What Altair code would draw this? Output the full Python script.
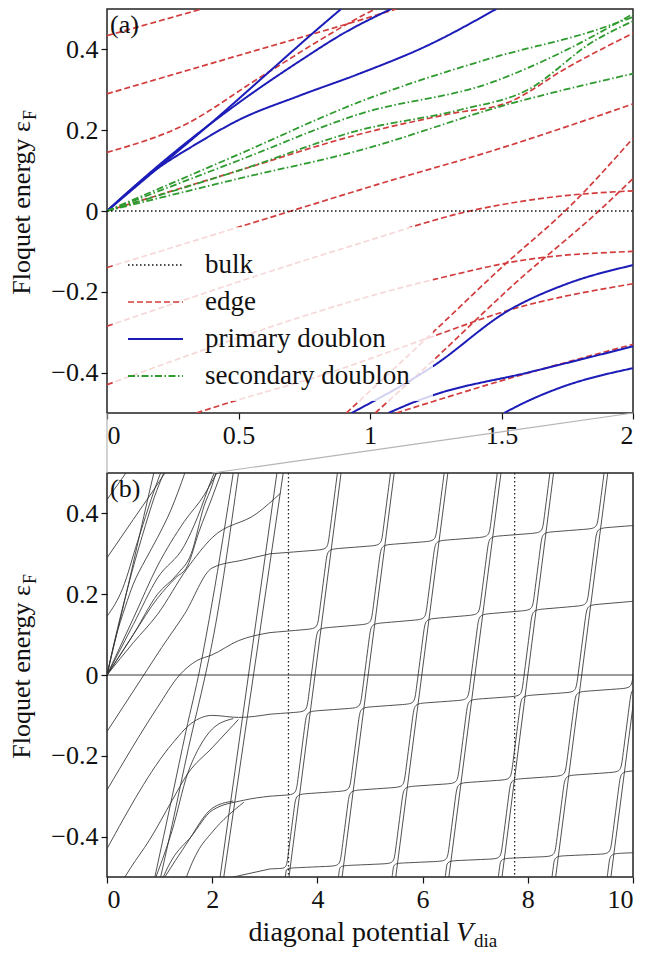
import altair as alt
import pandas as pd
import numpy as np

FONT = "Liberation Serif"
FS = 26

# ---------------- panel (a): V_dia in [0, 2] ----------------
bulk_x = [0.0, 2.0]
bulk_y = [0.0, 0.0]

# primary doublon (blue)
b1_x = [0.0, 0.2, 0.4, 0.6, 0.8, 0.89]
b1_y = [0.0, 0.11, 0.22, 0.335, 0.45, 0.5]
b2_x = [0.0, 0.2, 0.48, 0.73, 0.9, 1.08]
b2_y = [0.0, 0.115, 0.258, 0.37, 0.44, 0.5]
b3_x = [0.0, 0.16, 0.35, 0.5, 0.73, 0.96, 1.22, 1.48]
b3_y = [0.0, 0.09, 0.17, 0.225, 0.285, 0.34, 0.41, 0.5]
ba_x = [0.93, 1.24, 1.53, 1.75, 2.0]
ba_y = [-0.5, -0.384, -0.245, -0.18, -0.134]
bb_x = [1.07, 1.16, 1.24, 1.6, 2.0]
bb_y = [-0.5, -0.475, -0.456, -0.4, -0.335]
bc_x = [1.51, 1.585, 1.72, 2.0]
bc_y = [-0.5, -0.475, -0.438, -0.389]

# secondary doublon (green)
g1_x = [0.0, 0.5, 0.96, 1.47, 1.85, 2.0]
g1_y = [0.0, 0.14, 0.27, 0.38, 0.446, 0.48]
g2_x = [0.0, 0.5, 0.96, 1.47, 1.72, 2.0]
g2_y = [0.0, 0.125, 0.24, 0.32, 0.39, 0.488]
g3_x = [0.0, 0.5, 0.96, 1.34, 1.6, 1.85, 2.0]
g3_y = [0.0, 0.1, 0.2, 0.25, 0.30, 0.42, 0.47]
g4_x = [0.0, 0.5, 0.96, 1.53, 2.0]
g4_y = [0.0, 0.08, 0.15, 0.265, 0.34]

# edge (red)
e0_x = [0.0, 0.5, 0.96, 1.3, 1.53, 1.75, 2.0]
e0_y = [0.0, 0.1, 0.19, 0.24, 0.27, 0.355, 0.44]
e1_x = [0.0, 0.36]
e1_y = [0.434, 0.5]
e1w_x = [0.34, 0.456, 0.8, 1.24, 1.53, 2.0]
e1w_y = [-0.5, -0.476, -0.41, -0.31, -0.245, -0.18]
e2_x = [0.0, 0.5, 1.0, 1.1]
e2_y = [0.29, 0.385, 0.48, 0.5]
e2w_x = [1.1, 1.5, 2.0]
e2w_y = [-0.5, -0.42, -0.33]
e3_x = [0.0, 0.3, 0.58, 0.99, 1.02]
e3_y = [0.145, 0.215, 0.33, 0.49, 0.5]
e4_x = [0.0, 0.7, 1.04, 1.47, 2.0]
e4_y = [-0.14, 0.0, 0.068, 0.15, 0.265]
e5_x = [0.0, 0.96, 1.38, 1.7, 2.0]
e5_y = [-0.285, -0.08, 0.0, 0.035, 0.05]
e6_x = [0.0, 1.24, 1.6, 2.0]
e6_y = [-0.43, -0.17, -0.12, -0.10]
p1_x = [0.91, 1.24, 1.5, 1.77, 2.0]
p1_y = [-0.5, -0.30, -0.14, 0.018, 0.18]
p2_x = [1.02, 1.24, 1.55, 1.87, 2.0]
p2_y = [-0.5, -0.37, -0.18, 0.0, 0.08]

# ---------------- panel (b): continuation for V_dia > 2 ----------------
e0_ext_x, e0_ext_y = [2.17], [0.5]
g1_ext_x, g1_ext_y = [2.09], [0.5]
g2_ext_x, g2_ext_y = [2.04], [0.5]
g3_ext_x, g3_ext_y = [2.07], [0.5]
g4_ext_x, g4_ext_y = [2.85, 3.3], [0.40, 0.45]
p1_ext_x, p1_ext_y = [2.4], [0.5]
p2_ext_x, p2_ext_y = [2.5], [0.5]
e4_ext_x, e4_ext_y = [2.6, 3.1], [0.285, 0.30]
e5_ext_x, e5_ext_y = [2.5, 3.1], [0.085, 0.105]
e6_ext_x, e6_ext_y = [2.5, 3.1], [-0.105, -0.097]
ba_ext_x, ba_ext_y = [2.4], [-0.108]
e1w_ext_x, e1w_ext_y = [2.5], [-0.11]
bb_ext_x, bb_ext_y = [2.6, 3.1], [-0.31, -0.30]
e2w_ext_x, e2w_ext_y = [2.4], [-0.312]
bc_ext_x, bc_ext_y = [2.6], [-0.315]
low_x, low_y = [2.4, 3.1], [-0.5, -0.48]

# nearly flat doublon levels for V_dia >= 3.1 (start, end)
lev_x = [3.1, 10.5]
lev0_y = [0.30, 0.375]
lev1_y = [0.105, 0.188]
lev2_y = [-0.097, -0.027]
lev3_y = [-0.30, -0.233]
lev4_y = [-0.48, -0.437]

# steep edge-state lines (where they cross the bottom / top of the window)
steep_bot = [2.15, 3.39, 4.40, 5.42, 6.43, 7.44, 8.46, 9.51]
steep_top = [3.23, 4.38, 5.39, 6.41, 7.42, 8.42, 9.45, 10.5]
twin_bot = [2.22, 3.46, 4.47, 5.49, 6.50, 7.51, 8.53, 9.58]
twin_top = [3.35, 4.45, 5.46, 6.48, 7.49, 8.49, 9.52, 10.57]

marker_v = [3.45, 7.75]
zoom_lo = [0.0, 2.0]
zoom_hi = [0.0, 10.0]

kinds = ["bulk", "edge", "primary doublon", "secondary doublon"]
colors = ["#111111", "#d23c3c", "#1c1cb8", "#2f9a2f"]
dashes = [[1.5, 2.5], [6, 3], [1, 0], [7, 2.5, 1.5, 2.5]]
widths = [1.6, 1.7, 2.0, 1.8]

W, H = 526, 404

curves_a = [
    ("bulk", "bulk", bulk_x, bulk_y),
    ("B1", "primary doublon", b1_x, b1_y), ("B2", "primary doublon", b2_x, b2_y),
    ("B3", "primary doublon", b3_x, b3_y), ("BA", "primary doublon", ba_x, ba_y),
    ("BB", "primary doublon", bb_x, bb_y), ("BC", "primary doublon", bc_x, bc_y),
    ("G1", "secondary doublon", g1_x, g1_y), ("G2", "secondary doublon", g2_x, g2_y),
    ("G3", "secondary doublon", g3_x, g3_y), ("G4", "secondary doublon", g4_x, g4_y),
    ("E0", "edge", e0_x, e0_y), ("E1", "edge", e1_x, e1_y), ("E1w", "edge", e1w_x, e1w_y),
    ("E2", "edge", e2_x, e2_y), ("E2w", "edge", e2w_x, e2w_y), ("E3", "edge", e3_x, e3_y),
    ("E4", "edge", e4_x, e4_y), ("E5", "edge", e5_x, e5_y), ("E6", "edge", e6_x, e6_y),
    ("P1", "edge", p1_x, p1_y), ("P2", "edge", p2_x, p2_y),
]
ext_b = {
    "E0": (e0_ext_x, e0_ext_y), "G1": (g1_ext_x, g1_ext_y), "G2": (g2_ext_x, g2_ext_y),
    "G3": (g3_ext_x, g3_ext_y), "G4": (g4_ext_x, g4_ext_y), "P1": (p1_ext_x, p1_ext_y),
    "P2": (p2_ext_x, p2_ext_y), "E4": (e4_ext_x, e4_ext_y), "E5": (e5_ext_x, e5_ext_y),
    "E6": (e6_ext_x, e6_ext_y), "BA": (ba_ext_x, ba_ext_y), "E1w": (e1w_ext_x, e1w_ext_y),
    "BB": (bb_ext_x, bb_ext_y), "E2w": (e2w_ext_x, e2w_ext_y), "BC": (bc_ext_x, bc_ext_y),
}

rows_a = []
for name, kind, xs, ys in curves_a:
    for i, (x, y) in enumerate(zip(xs, ys)):
        rows_a.append({"curve": name, "kind": kind, "i": i, "V": x, "E": y})
df_a = pd.DataFrame(rows_a)

rows_b = []
for name, kind, xs, ys in curves_a:
    if name == "bulk":
        continue
    ex, ey = ext_b.get(name, ([], []))
    for i, (x, y) in enumerate(zip(list(xs) + list(ex), list(ys) + list(ey))):
        rows_b.append({"curve": name, "i": i, "V": x, "E": y})
for i, (x, y) in enumerate(zip(low_x, low_y)):
    rows_b.append({"curve": "low", "i": i, "V": x, "E": y})
# first steep line and all twin lines as straight segments
rows_b.append({"curve": "S0", "i": 0, "V": steep_bot[0], "E": -0.5})
rows_b.append({"curve": "S0", "i": 1, "V": steep_top[0], "E": 0.5})
for k in range(len(twin_bot)):
    rows_b.append({"curve": f"T{k}", "i": 0, "V": twin_bot[k], "E": -0.5})
    rows_b.append({"curve": f"T{k}", "i": 1, "V": twin_top[k], "E": 0.5})
df_b = pd.DataFrame(rows_b)

# ---- avoided crossings: flat levels and steep lines joined as staircases ----
levels = [lev0_y, lev1_y, lev2_y, lev3_y, lev4_y]


def lev_at(j, v):
    return float(np.interp(v, lev_x, levels[j]))


def cross(i, j):
    e = lev_at(j, steep_bot[i])
    for _ in range(10):
        v = steep_bot[i] + (e + 0.5) * (steep_top[i] - steep_bot[i])
        e = lev_at(j, v)
    return (steep_bot[i] + (e + 0.5) * (steep_top[i] - steep_bot[i]), e)


def walk(seg, i, j, paths):
    n = len(steep_bot)
    while i < n:
        X = cross(i, j)
        seg.append(X)
        above = [(cross(i, jj)[1], jj) for jj in range(5) if cross(i, jj)[1] > X[1]]
        if above:
            _, jn = min(above)
            seg.append(cross(i, jn))
            j = jn
            i += 1
        else:
            seg.append((steep_top[i], 0.5))
            paths.append(seg)
            i += 1
            if i >= n:
                return
            seg = [(steep_bot[i], -0.5)]
            _, jn = min((cross(i, jj)[1], jj) for jj in range(5))
            seg.append(cross(i, jn))
            j = jn
            i += 1
    seg.append((10.5, lev_at(j, 10.5)))
    paths.append(seg)


stairs = []
for j0 in range(5):
    walk([(lev_x[0], lev_at(j0, lev_x[0]))], 1, j0, stairs)
_, jlow = min((cross(1, jj)[1], jj) for jj in range(5))
seg0 = [(steep_bot[1], -0.5), cross(1, jlow)]
walk(seg0, 2, jlow, stairs)

R = 11.0  # corner rounding in pixels
rows_s = []
for p, seg in enumerate(stairs):
    P = np.array([[v * W / 10.0, e * H] for v, e in seg])
    ctrl = [P[0]]
    for k in range(1, len(P) - 1):
        a, b = P[k - 1] - P[k], P[k + 1] - P[k]
        la, lb = np.hypot(*a), np.hypot(*b)
        ctrl.append(P[k] + a / la * min(R, 0.4 * la))
        ctrl.append(P[k])
        ctrl.append(P[k] + b / lb * min(R, 0.4 * lb))
    ctrl.append(P[-1])
    for i, c in enumerate(ctrl):
        rows_s.append({"curve": f"st{p}", "i": i, "V": c[0] * 10.0 / W, "E": c[1] / H})
df_s = pd.DataFrame(rows_s)

yaxis = alt.Axis(values=[-0.4, -0.2, 0, 0.2, 0.4], format="~r", title=None,
                 tickSize=6, tickWidth=1.2, tickColor="#111", domain=False, grid=False,
                 labelFont=FONT, labelFontSize=FS, labelColor="#111", labelPadding=3)


def xaxis(vals):
    return alt.Axis(values=vals, format="~r", title=None, tickSize=6, tickWidth=1.2,
                    tickColor="#111", domain=False, grid=False, labelFont=FONT,
                    labelFontSize=FS, labelColor="#111", labelPadding=3)


yscale = alt.Scale(domain=[-0.5, 0.5], nice=False, zero=False)
cscale = alt.Scale(domain=kinds, range=colors)
dscale = alt.Scale(domain=kinds, range=dashes)


def ytitle():
    t1 = alt.Chart(pd.DataFrame({"t": ["Floquet energy ε"]})).mark_text(
        font=FONT, fontSize=FS, angle=270, align="right", baseline="alphabetic",
        color="#111").encode(text="t:N", x=alt.value(-77), y=alt.value(H / 2 - 90))
    t2 = alt.Chart(pd.DataFrame({"t": ["F"]})).mark_text(
        font=FONT, fontSize=18, angle=270, align="left", baseline="alphabetic",
        color="#111").encode(text="t:N", x=alt.value(-71), y=alt.value(H / 2 - 91))
    return [t1, t2]


# ----- panel (a) -----
layers_a = []
for kind in ["edge", "primary doublon", "secondary doublon", "bulk"]:
    k = kinds.index(kind)
    layers_a.append(
        alt.Chart(df_a).transform_filter(alt.datum.kind == kind)
        .mark_line(strokeWidth=widths[k], clip=True, interpolate="monotone")
        .encode(
            x=alt.X("V:Q", scale=alt.Scale(domain=[0, 2], nice=False, zero=False),
                    axis=xaxis([0, 0.5, 1, 1.5, 2])),
            y=alt.Y("E:Q", scale=yscale, axis=yaxis),
            color=alt.Color("kind:N", scale=cscale, legend=None),
            strokeDash=alt.StrokeDash("kind:N", scale=dscale, legend=None),
            detail="curve:N", order="i:Q")
    )

legend_df = pd.DataFrame({"kind": kinds})
layers_a.append(
    alt.Chart(legend_df.head(1)).mark_rect(fill="white", opacity=0.8).encode(
        x=alt.value(6), x2=alt.value(326), y=alt.value(218), y2=alt.value(392))
)
for r, kind in enumerate(kinds):
    yy = 256 + 37 * r
    layers_a.append(
        alt.Chart(legend_df).transform_filter(alt.datum.kind == kind)
        .mark_rule(strokeWidth=widths[r], strokeDash=dashes[r], color=colors[r])
        .encode(x=alt.value(21), x2=alt.value(76), y=alt.value(yy))
    )
    layers_a.append(
        alt.Chart(legend_df).transform_filter(alt.datum.kind == kind)
        .mark_text(font=FONT, fontSize=FS + 1, align="left", baseline="middle", color="#111")
        .encode(text="kind:N", x=alt.value(98), y=alt.value(yy))
    )
layers_a.append(
    alt.Chart(pd.DataFrame({"t": ["(a)"]})).mark_text(
        font=FONT, fontSize=FS, align="left", baseline="top", color="#111")
    .encode(text="t:N", x=alt.value(3), y=alt.value(3))
)
layers_a += ytitle()
panel_a = alt.layer(*layers_a).properties(width=W, height=H)

# ----- panel (b) -----
xb = alt.Scale(domain=[0, 10], nice=False, zero=False)
layers_b = [
    alt.Chart(df_b).mark_line(strokeWidth=1.0, color="#333333", opacity=0.85, clip=True,
                              interpolate="monotone")
    .encode(x=alt.X("V:Q", scale=xb, axis=xaxis([0, 2, 4, 6, 8, 10])),
            y=alt.Y("E:Q", scale=yscale, axis=yaxis),
            detail="curve:N", order="i:Q"),
    alt.Chart(df_s).mark_line(strokeWidth=1.0, color="#333333", opacity=0.85, clip=True,
                              interpolate="basis")
    .encode(x=alt.X("V:Q", scale=xb), y=alt.Y("E:Q", scale=yscale),
            detail="curve:N", order="i:Q"),
    alt.Chart(pd.DataFrame({"E": [0.0]})).mark_rule(color="#222", strokeWidth=0.9)
    .encode(y="E:Q"),
    alt.Chart(pd.DataFrame({"V": marker_v})).mark_rule(
        color="#222", strokeWidth=1.3, strokeDash=[1.5, 2.5]).encode(x="V:Q"),
    alt.Chart(pd.DataFrame({"lo": zoom_lo, "hi": zoom_hi})).mark_rule(
        color="#b5b5b5", strokeWidth=1.2, clip=False)
    .encode(x="lo:Q", x2="hi:Q", y=alt.value(0), y2=alt.value(-60)),
    alt.Chart(pd.DataFrame({"t": ["(b)"]})).mark_text(
        font=FONT, fontSize=FS, align="left", baseline="top", color="#111")
    .encode(text="t:N", x=alt.value(3), y=alt.value(3)),
    alt.Chart(pd.DataFrame({"t": ["diagonal potential"]})).mark_text(
        font=FONT, fontSize=FS + 2, align="right", baseline="alphabetic", color="#111")
    .encode(text="t:N", x=alt.value(343), y=alt.value(H + 64)),
    alt.Chart(pd.DataFrame({"t": ["V"]})).mark_text(
        font=FONT, fontSize=FS + 2, fontStyle="italic", align="left",
        baseline="alphabetic", color="#111")
    .encode(text="t:N", x=alt.value(349), y=alt.value(H + 64)),
    alt.Chart(pd.DataFrame({"t": ["dia"]})).mark_text(
        font=FONT, fontSize=19, align="left", baseline="alphabetic", color="#111")
    .encode(text="t:N", x=alt.value(367), y=alt.value(H + 70)),
] + ytitle()
panel_b = alt.layer(*layers_b).properties(width=W, height=H)

chart = alt.vconcat(panel_a, panel_b, spacing=60, bounds="flush", padding=0).configure_view(
    stroke="#222", strokeWidth=1.5)

chart.save("out.html", embed_options={"renderer": "svg", "actions": False})
